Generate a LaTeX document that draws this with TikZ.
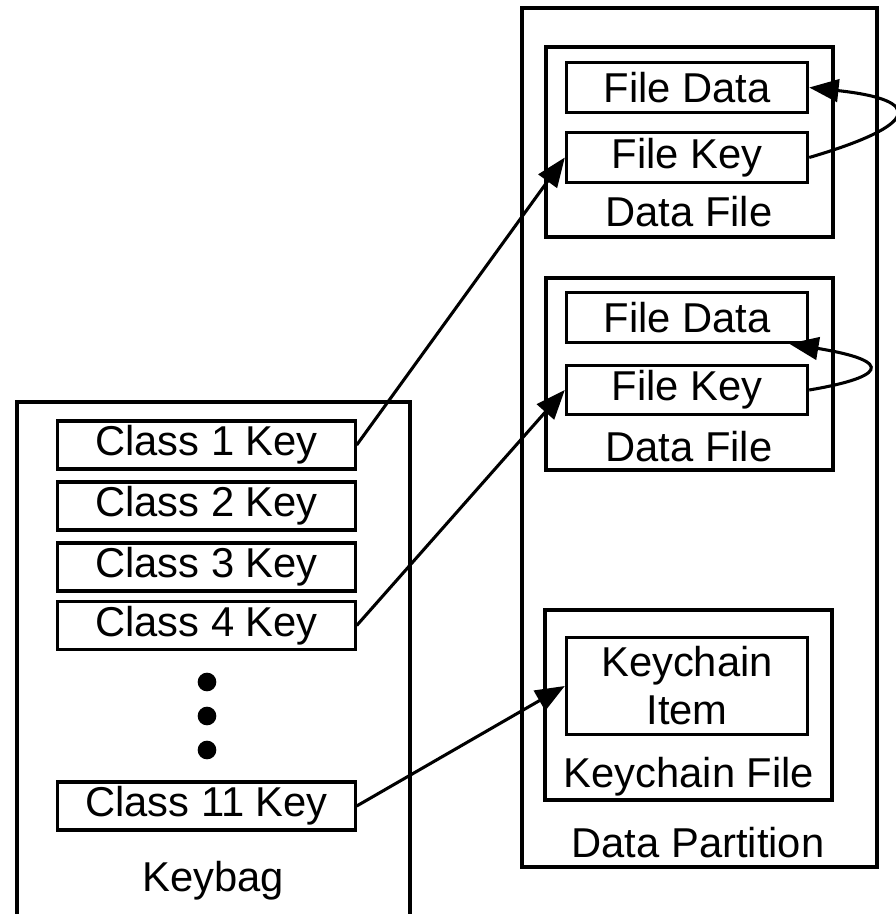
\documentclass[tikz,border=0pt]{standalone}
\usepackage{fontspec}
\setmainfont{Liberation Sans}
\usetikzlibrary{arrows.meta}
\begin{document}
\begin{tikzpicture}[x=0.75pt,y=-0.75pt,line width=2.3pt,
  keybox/.style={draw,inner sep=0pt,minimum width=223pt,minimum height=36pt},
  filebox/.style={draw,inner sep=0pt,minimum width=181pt,minimum height=37pt},
  txt/.style={inner sep=0pt},
  every node/.append style={font=\fontsize{31.3pt}{36pt}\selectfont},
  arr/.style={-{Triangle[length=22pt,width=17pt]}}]
\useasboundingbox (0,0) rectangle (896,914);
\clip (0,0) rectangle (896,914);

\draw (17,402) rectangle (410,950);
\node[keybox] (k1) at (206.5,445) {Class 1 Key};
\node[keybox] (k2) at (206.5,506) {Class 2 Key};
\node[keybox] (k3) at (206.5,567) {Class 3 Key};
\node[keybox] (k4) at (206.5,625.5) {Class 4 Key};
\fill (207,682) circle (7pt);
\fill (207,716) circle (7pt);
\fill (207,750) circle (7pt);
\node[keybox] (k11) at (206.5,806) {Class 11 Key};
\node[txt] (bag) at (213,881) {Keybag};

\draw (522,8) rectangle (877,867);
\node[txt] (part) at (698,843) {Data Partition};

\draw (546,47) rectangle (833,237);
\node[filebox] (fdA) at (687,87.5) {File Data};
\node[filebox] (fkA) at (687,157.5) {File Key};
\node[txt] (dfA) at (689,212) {Data File};

\draw (546,278) rectangle (833,470);
\node[filebox] (fdB) at (687,317.5) {File Data};
\node[filebox] (fkB) at (687,390) {File Key};
\node[txt] (dfB) at (689,447) {Data File};

\draw (545,610) rectangle (832,800);
\node[filebox,minimum height=73pt,align=center] (item) at (687,686) {Keychain\\Item};
\node[txt] (kcf) at (689,777) {Keychain File};

\draw[arr] (k1.east) -- (fkA.west);
\draw[arr] (k4.east) -- (fkB.west);
\draw[arr] (k11.east) -- (item.west);
\draw[arr] (fkA.east) .. controls (920,125) and (925,100) .. (fdA.east);
\draw[arr] (fkB.east) .. controls (880,378) and (900,362) .. ([xshift=-15pt]fdB.south east);
\end{tikzpicture}
\end{document}
